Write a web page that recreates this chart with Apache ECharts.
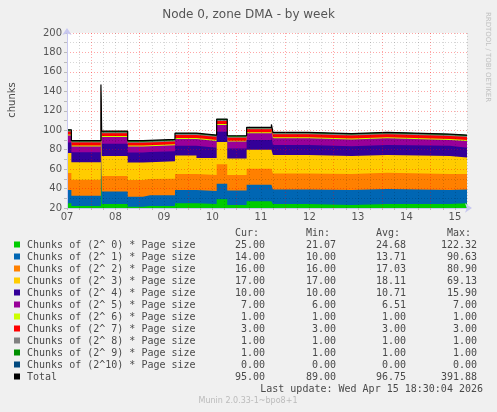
<!DOCTYPE html>
<html><head><meta charset="utf-8">
<script src="https://cdn.jsdelivr.net/npm/echarts@6/dist/echarts.min.js"></script>
<style>html,body{margin:0;padding:0;background:#f0f0f0;}#c{width:497px;height:412px;}</style>
</head><body><div id="c"></div>
<script>
// time in days from left edge (day 0 = "07")
const times  = [0, 0.09, 0.70, 0.715, 1.252, 1.567, 1.711, 2.227, 2.67, 3.087, 3.305, 3.705, 4.216, 4.247, 4.969, 5.870, 6.604, 7.897, 8.25];
const order0 = [25, 22, 64, 24, 21.2, 22, 22, 25, 24, 29, 23, 27, 27, 24, 23, 24, 24, 25, 25];
const order1 = [13.5, 10.5, 20, 13, 10.3, 11, 11, 13.5, 13.5, 16, 15, 17, 17, 15, 15.5, 15.5, 14.5, 14, 14];
const order2 = [17.5, 16.5, 18, 16, 17.2, 16.8, 17, 16.5, 16.5, 20, 16, 16.5, 16.5, 16.5, 16.5, 16.8, 16.5, 16, 16];
const order3 = [20.5, 18, 20, 20.5, 18, 17.2, 18, 19, 17.5, 23, 17, 19.5, 19.5, 19, 18.5, 18.2, 18.5, 17, 17];
const order4 = [11, 10.3, 12, 12.5, 10.5, 10.5, 10.5, 10, 10.5, 10.5, 10.3, 10, 13, 10.3, 10, 10.3, 10.5, 10, 10];
const order5 = [7, 6, 7, 7, 6, 6, 6, 7, 7, 7, 7, 7, 7, 7, 7, 7, 6, 7, 7];
const order6 = [1, 1, 1, 1, 1, 1, 1, 1, 1, 1, 1, 1, 1, 1, 1, 1, 1, 1, 1];
const order7 = [3, 3, 3, 3, 3, 3, 3, 3, 3, 3, 3, 3, 3, 3, 3, 3, 3, 3, 3];
const order8 = [1, 1, 1, 1, 1, 1, 1, 1, 1, 1, 1, 1, 1, 1, 1, 1, 1, 1, 1];
const order9 = [1, 1, 1, 1, 1, 1, 1, 1, 1, 1, 1, 1, 1, 1, 1, 1, 1, 1, 1];
const order10 = [0, 0, 0, 0, 0, 0, 0, 0, 0, 0, 0, 0, 0, 0, 0, 0, 0, 0, 0];

const dayLabels = ['07', '08', '09', '10', '11', '12', '13', '14', '15'];
const yTicks = [20, 40, 60, 80, 100, 120, 140, 160, 180, 200];

const names = ['Chunks of (2^ 0) * Page size', 'Chunks of (2^ 1) * Page size', 'Chunks of (2^ 2) * Page size',
  'Chunks of (2^ 3) * Page size', 'Chunks of (2^ 4) * Page size', 'Chunks of (2^ 5) * Page size',
  'Chunks of (2^ 6) * Page size', 'Chunks of (2^ 7) * Page size', 'Chunks of (2^ 8) * Page size',
  'Chunks of (2^ 9) * Page size', 'Chunks of (2^10) * Page size', 'Total'];
const colors = ['#00cc00', '#0066b3', '#ff8000', '#ffcc00', '#330099', '#990099', '#ccff00', '#ff0000', '#808080', '#008f00', '#00487d', '#000000'];
const curV = [25, 14, 16, 17, 10, 7, 1, 3, 1, 1, 0, 95];
const minV = [21.07, 10, 16, 17, 10, 6, 1, 3, 1, 1, 0, 89];
const avgV = [24.68, 13.71, 17.03, 18.11, 10.71, 6.51, 1, 3, 1, 1, 0, 96.75];
const maxV = [122.32, 90.63, 80.90, 69.13, 15.90, 7, 1, 3, 1, 1, 0, 391.88];

const layers = [order0, order1, order2, order3, order4, order5, order6, order7, order8, order9, order10];
// running stack (each layer sits on the ones below it)
const cum = [];
layers.forEach((arr, k) => cum.push(arr.map((v, i) => v + (k ? cum[k - 1][i] : 0))));
const totalV = cum[cum.length - 1];

const series = [];
for (let k = layers.length - 1; k >= 0; k--) {
  series.push({
    name: names[k], type: 'line', step: 'end', symbol: 'none', silent: true,
    lineStyle: { width: 0 }, areaStyle: { color: colors[k], opacity: 1, origin: 'start' },
    itemStyle: { color: colors[k] },
    data: times.map((t, i) => [t, cum[k][i]])
  });
}
series.push({
  name: 'Total', type: 'line', step: 'end', symbol: 'none', silent: true,
  lineStyle: { width: 1.2, color: '#000' }, data: times.map((t, i) => [t, totalV[i]])
});

const font = "'DejaVu Sans'";
const mono = "10px 'DejaVu Sans Mono'";
const txtCol = '#4a4a4a';
const graphic = [];
function txt(text, x, y, align, f, fill, rot) {
  graphic.push({ type: 'text', x: x, y: y, rotation: rot || 0, silent: true,
    style: { text: text, font: f || mono, fill: fill || txtCol, align: align || 'left', verticalAlign: 'middle',
      textAlign: align || 'left', textVerticalAlign: 'middle' } });
}
const colRight = [265, 336, 406, 477];
['Cur:', 'Min:', 'Avg:', 'Max:'].forEach((h, j) => txt(h, colRight[j] - 6, 233, 'right'));
names.forEach((n, k) => {
  const y = 245 + 12 * k;
  graphic.push({ type: 'rect', shape: { x: 14, y: y - 3.5, width: 6, height: 6 }, style: { fill: colors[k] }, silent: true });
  txt(n, 27, y, 'left');
  [curV, minV, avgV, maxV].forEach((arr, j) => txt(arr[k].toFixed(2), colRight[j], y, 'right'));
});
txt('Last update: Wed Apr 15 18:30:04 2026', 483, 389, 'right');
txt('Munin 2.0.33-1~bpo8+1', 248, 401, 'center', "8px 'DejaVu Sans'", '#bbbbbb');
txt('chunks', 12, 100, 'center', "10px 'DejaVu Sans'", txtCol, Math.PI / 2);
txt('RRDTOOL / TOBI OETIKER', 488, 57, 'center', "7px 'DejaVu Sans'", '#c0c0c0', -Math.PI / 2);

const minorCol = 'rgba(0,0,0,0.16)';
const majorCol = 'rgba(255,0,0,0.35)';
const axisCol = '#c8c8f0';

const chart = echarts.init(document.getElementById('c'), null, { renderer: 'canvas' });
chart.setOption({
  animation: false,
  backgroundColor: '#f0f0f0',
  title: { text: 'Node 0, zone DMA - by week', left: 'center', top: 4,
    textStyle: { fontFamily: font, fontSize: 12, fontWeight: 'normal', color: '#555' } },
  grid: { left: 67, top: 33, width: 400, height: 175, show: true, backgroundColor: '#ffffff', borderWidth: 0 },
  xAxis: {
    type: 'value', min: 0, max: 8.25, interval: 0.25, z: 5,
    axisLine: { onZero: false, lineStyle: { color: axisCol, width: 1 }, symbol: ['none', 'arrow'], symbolSize: [7, 7], symbolOffset: [0, 5] },
    axisTick: { show: true, length: 2, lineStyle: { color: '#bbb' } },
    splitLine: { show: true, lineStyle: { color: [minorCol, minorCol, majorCol, minorCol], type: [1, 2], width: 1 } },
    axisLabel: { margin: 4, color: '#555', fontFamily: font, fontSize: 10,
      formatter: v => (Math.abs(v - Math.round(v)) < 1e-6 && dayLabels[Math.round(v)]) ? dayLabels[Math.round(v)] : '' }
  },
  yAxis: {
    type: 'value', min: 20, max: 200, interval: 10, z: 5,
    axisLine: { show: true, onZero: false, lineStyle: { color: axisCol, width: 1 }, symbol: ['none', 'arrow'], symbolSize: [7, 7], symbolOffset: [0, 5] },
    axisTick: { show: true, length: 3, lineStyle: { color: '#bbb' } },
    splitLine: { show: true, lineStyle: { color: [majorCol, minorCol], type: [1, 2], width: 1 } },
    axisLabel: { margin: 5, color: '#555', fontFamily: font, fontSize: 10,
      formatter: v => yTicks.indexOf(v) >= 0 ? String(v) : '' }
  },
  graphic: graphic,
  series: series
});
</script></body></html>
